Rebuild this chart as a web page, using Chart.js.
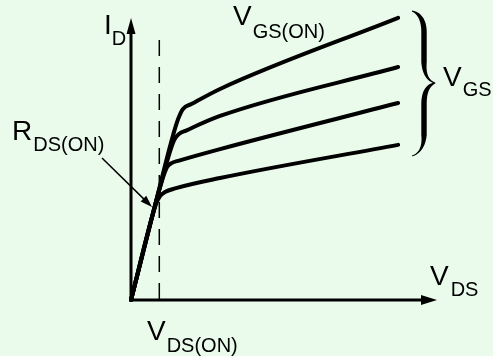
<!DOCTYPE html>
<html><head><meta charset="utf-8">
<style>html,body{margin:0;padding:0;background:#eafbec;overflow:hidden}canvas{display:block}</style>
<script src="https://cdn.jsdelivr.net/npm/chart.js@4.4.1/dist/chart.umd.min.js"></script>
</head><body>
<canvas id="c" width="493" height="356"></canvas>
<script>
// Output characteristic curves (arbitrary units): V_DS on x, I_D on y
const curve1X = [0, 0.78, 1.34, 1.54, 1.70, 1.99, 2.91, 8.73];   // V_GS(ON)
const curve1Y = [0, 3.35, 5.73, 6.44, 6.80, 6.98, 7.51, 10.04];
const curve2X = [0, 1.21, 1.41, 1.57, 1.80, 2.91, 8.73];
const curve2Y = [0, 5.05, 5.69, 5.91, 6.03, 6.55, 8.29];
const curve3X = [0, 1.01, 1.18, 1.34, 1.57, 2.91, 8.73];
const curve3Y = [0, 4.23, 4.73, 4.88, 4.96, 5.37, 7.01];
const curve4X = [0, 0.82, 0.95, 1.11, 1.44, 2.91, 8.73];
const curve4Y = [0, 3.42, 3.70, 3.84, 3.97, 4.34, 5.52];
const vdsOn = 0.925;
const xMax = 10, yMax = 10;

const labelID = ['I', 'D'];
const labelVgsOn = ['V', 'GS(ON)'];
const labelVgs = ['V', 'GS'];
const labelRds = ['R', 'DS(ON)'];
const labelVdsOn = ['V', 'DS(ON)'];
const labelVds = ['V', 'DS'];

function pts(xs, ys) { return xs.map((x, i) => ({x: x, y: ys[i]})); }
function ds(xs, ys) {
  return {data: pts(xs, ys), showLine: true, borderColor: '#000', borderWidth: 4,
    pointRadius: 0, cubicInterpolationMode: 'monotone', clip: false, fill: false,
    borderCapStyle: 'round', borderJoinStyle: 'round'};
}

const FONT = '"Liberation Sans", Arial, sans-serif';
function label(ctx, pair, x, y, subDx, subDy) {
  ctx.fillStyle = '#000';
  ctx.textBaseline = 'alphabetic';
  ctx.textAlign = 'left';
  ctx.font = '28px ' + FONT;
  ctx.fillText(pair[0], x, y);
  const w = ctx.measureText(pair[0]).width;
  ctx.font = '20px ' + FONT;
  ctx.fillText(pair[1], x + w + subDx, y + subDy);
}

function cub(p0, p1, p2, p3, t) {
  const u = 1 - t;
  return [u*u*u*p0[0] + 3*u*u*t*p1[0] + 3*u*t*t*p2[0] + t*t*t*p3[0],
          u*u*u*p0[1] + 3*u*u*t*p1[1] + 3*u*t*t*p2[1] + t*t*t*p3[1]];
}
function brace(ctx, x0, yTop, yBot, xMid, yMid) {
  const xv = x0 + 12;
  const W = 5.4;
  const segs = [
    [[x0, yTop], [x0 + 7, yTop + 2], [xv, yTop + 9], [xv, yTop + 21], 0.9, W],
    [[xv, yTop + 21], [xv, yTop + 30], [xv, yMid - 30], [xv, yMid - 21], W, W],
    [[xv, yMid - 21], [xv, yMid - 7], [xMid - 6, yMid - 2], [xMid, yMid], W, 1.3],
    [[xMid, yMid], [xMid - 6, yMid + 2], [xv, yMid + 7], [xv, yMid + 21], 1.3, W],
    [[xv, yMid + 21], [xv, yMid + 30], [xv, yBot - 30], [xv, yBot - 21], W, W],
    [[xv, yBot - 21], [xv, yBot - 9], [x0 + 7, yBot - 2], [x0, yBot], W, 0.9]
  ];
  const c = [], w = [];
  segs.forEach((s, si) => {
    const n = 20;
    for (let i = (si === 0 ? 0 : 1); i <= n; i++) {
      const t = i / n;
      c.push(cub(s[0], s[1], s[2], s[3], t));
      w.push(s[4] + (s[5] - s[4]) * Math.sin(t * Math.PI / 2));
    }
  });
  const L = [], R = [];
  for (let i = 0; i < c.length; i++) {
    const a = c[Math.max(0, i - 1)], b = c[Math.min(c.length - 1, i + 1)];
    let dx = b[0] - a[0], dy = b[1] - a[1];
    const len = Math.hypot(dx, dy) || 1;
    const nx = -dy / len, ny = dx / len;
    L.push([c[i][0] + nx * w[i] / 2, c[i][1] + ny * w[i] / 2]);
    R.push([c[i][0] - nx * w[i] / 2, c[i][1] - ny * w[i] / 2]);
  }
  ctx.beginPath();
  ctx.moveTo(L[0][0], L[0][1]);
  L.forEach(p => ctx.lineTo(p[0], p[1]));
  for (let i = R.length - 1; i >= 0; i--) ctx.lineTo(R[i][0], R[i][1]);
  ctx.closePath();
  ctx.fillStyle = '#000';
  ctx.fill();
}

function arrowHead(ctx, tx, ty, ang, len, hw) {
  ctx.beginPath();
  ctx.moveTo(tx, ty);
  ctx.lineTo(tx - len * Math.cos(ang) + hw * Math.sin(ang), ty - len * Math.sin(ang) - hw * Math.cos(ang));
  ctx.lineTo(tx - len * Math.cos(ang) - hw * Math.sin(ang), ty - len * Math.sin(ang) + hw * Math.cos(ang));
  ctx.closePath();
  ctx.fill();
}

const decor = {
  id: 'decor',
  beforeDatasetsDraw(chart) {
    const ctx = chart.ctx, xs = chart.scales.x, ys = chart.scales.y;
    const x0 = xs.getPixelForValue(0), y0 = ys.getPixelForValue(0);
    const xEnd = xs.getPixelForValue(xMax), yEnd = ys.getPixelForValue(yMax);
    ctx.save();
    ctx.strokeStyle = '#000'; ctx.fillStyle = '#000'; ctx.lineWidth = 3;
    ctx.beginPath();
    ctx.moveTo(x0, y0 + 1.5); ctx.lineTo(x0, yEnd + 12);
    ctx.moveTo(x0 - 1.5, y0); ctx.lineTo(xEnd - 12, y0);
    ctx.stroke();
    arrowHead(ctx, x0, yEnd - 1, -Math.PI / 2, 16, 4.5);
    arrowHead(ctx, xEnd, y0, 0, 16, 5);
    // dashed V_DS(ON) marker
    const xd = xs.getPixelForValue(vdsOn);
    ctx.lineWidth = 1.5;
    ctx.setLineDash([16, 11]);
    ctx.beginPath();
    ctx.moveTo(xd, 40); ctx.lineTo(xd, y0 + 6);
    ctx.stroke();
    ctx.restore();
  },
  afterDatasetsDraw(chart) {
    const ctx = chart.ctx;
    ctx.save();
    // R_DS(ON) pointer
    ctx.strokeStyle = '#000'; ctx.fillStyle = '#000'; ctx.lineWidth = 1.5;
    const ax = 102, ay = 158, bx = 152, by = 207;
    const ang = Math.atan2(by - ay, bx - ax);
    ctx.beginPath(); ctx.moveTo(ax, ay); ctx.lineTo(bx - 8 * Math.cos(ang), by - 8 * Math.sin(ang)); ctx.stroke();
    arrowHead(ctx, bx, by, ang, 12, 4);
    brace(ctx, 412, 11, 156, 435, 83);
    label(ctx, labelID, 104, 34, 0, 11);
    label(ctx, labelVgsOn, 233, 25, 1, 13);
    label(ctx, labelVgs, 443, 86, 1, 10);
    label(ctx, labelRds, 12, 140, 1, 11);
    label(ctx, labelVdsOn, 147, 340, 1, 12);
    label(ctx, labelVds, 430, 285, 2, 11);
    ctx.restore();
  }
};

new Chart(document.getElementById('c'), {
  type: 'scatter',
  data: { datasets: [ds(curve1X, curve1Y), ds(curve2X, curve2Y), ds(curve3X, curve3Y), ds(curve4X, curve4Y)] },
  options: {
    responsive: false, animation: false, devicePixelRatio: 1,
    layout: { padding: { left: 131, right: 56, top: 19, bottom: 56 } },
    scales: {
      x: { type: 'linear', min: 0, max: xMax, display: false },
      y: { type: 'linear', min: 0, max: yMax, display: false }
    },
    plugins: { legend: { display: false }, tooltip: { enabled: false } },
    events: []
  },
  plugins: [decor]
});
</script>
</body></html>
